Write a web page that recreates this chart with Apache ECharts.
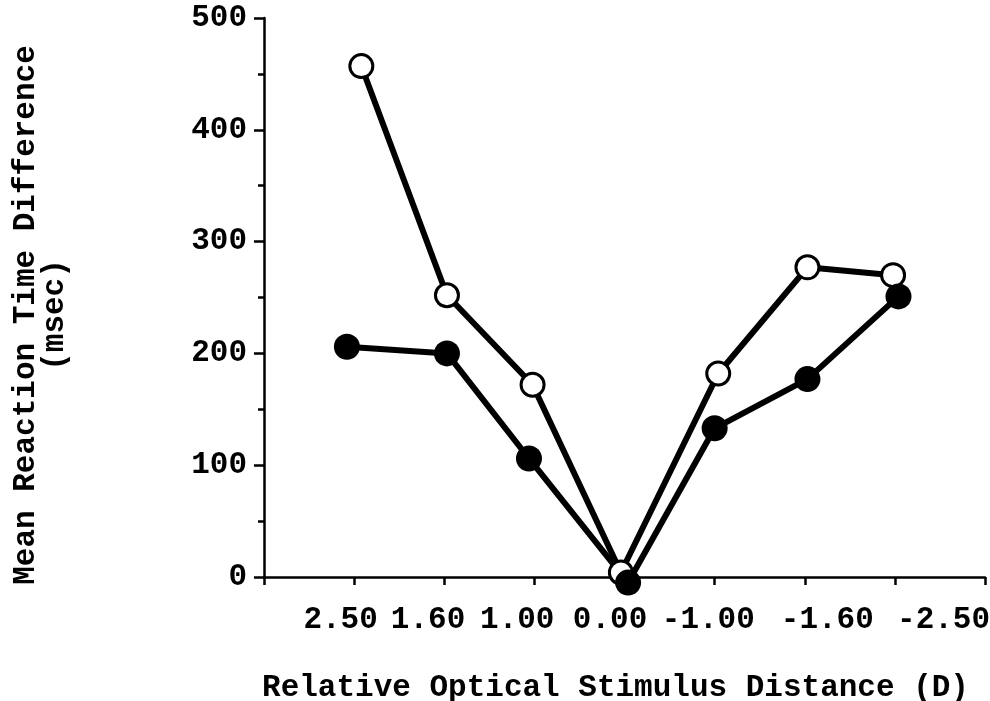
<!DOCTYPE html>
<html>
<head>
<meta charset="utf-8">
<script src="https://cdn.jsdelivr.net/npm/echarts@6/dist/echarts.min.js"></script>
<style>html,body{margin:0;padding:0;background:#fff;}#c{width:990px;height:701px;}</style>
</head>
<body>
<div id="c"></div>
<script>
// Category labels of the x axis (relative optical stimulus distance, D)
var xLabels = ['2.50', '1.60', '1.00', '0.00', '-1.00', '-1.60', '-2.50'];
// Where each label sits along the x axis (axis units, 0..8)
var xLabelAt = [0.85, 1.82, 2.81, 3.84, 4.93, 6.25, 7.54];
// Series: open circles
var openX = [1.08, 2.03, 2.98, 3.96, 5.04, 6.03, 6.98];
var openY = [457, 252, 172, 4, 182, 277, 270];
// Series: filled circles
var filledX = [0.92, 2.03, 2.94, 4.04, 5.00, 6.03, 7.04];
var filledY = [206, 200, 106, -5, 133, 177, 251];
// Y tick labels
var yTicks = [0, 100, 200, 300, 400, 500];

function pairs(xs, ys) { return xs.map(function (x, i) { return [x, ys[i]]; }); }

var FONT = '"Liberation Mono", "Courier New", monospace';
var chart = echarts.init(document.getElementById('c'), null, { renderer: 'canvas', width: 990, height: 701 });
chart.setOption({
  animation: false,
  backgroundColor: '#fff',
  grid: { left: 264, right: 5, top: 18, bottom: 124, containLabel: false, outerBoundsMode: 'none' },
  xAxis: {
    type: 'value', min: 0, max: 8, interval: 1,
    name: 'Relative Optical Stimulus Distance (D)',
    nameLocation: 'middle', nameGap: 96,
    nameTextStyle: { fontFamily: FONT, fontWeight: 'bold', fontSize: 31, color: '#000', padding: [0, 18, 0, 0] },
    axisLine: { show: true, onZero: false, lineStyle: { color: '#000', width: 2.5 } },
    axisTick: { show: true, length: 8, lineStyle: { color: '#000', width: 2.5 } },
    axisLabel: {
      customValues: xLabelAt,
      formatter: function (v) { var i = xLabelAt.indexOf(v); return i >= 0 ? xLabels[i] : ''; },
      fontFamily: FONT, fontWeight: 'bold', fontSize: 31, color: '#000', margin: 28
    },
    splitLine: { show: false }
  },
  yAxis: {
    type: 'value', min: 0, max: 500, interval: 100,
    axisLine: { show: true, lineStyle: { color: '#000', width: 2.5 } },
    axisTick: { show: true, length: 10, lineStyle: { color: '#000', width: 2.5 } },
    minorTick: { show: true, splitNumber: 2, length: 6, lineStyle: { color: '#000', width: 2.5 } },
    axisLabel: {
      formatter: function (v) { return yTicks.indexOf(v) >= 0 ? String(v) : ''; },
      fontFamily: FONT, fontWeight: 'bold', fontSize: 31, color: '#000', margin: 17
    },
    splitLine: { show: false }
  },
  graphic: [{
    type: 'text',
    x: 41, y: 315,
    rotation: Math.PI / 2,
    style: {
      text: 'Mean Reaction Time Difference\n(msec)',
      fontFamily: FONT, fontWeight: 'bold', fontSize: 31, lineHeight: 29,
      fill: '#000', align: 'center', verticalAlign: 'middle'
    }
  }],
  series: [
    {
      type: 'line', data: pairs(openX, openY), clip: false,
      symbol: 'circle', symbolSize: 23,
      lineStyle: { color: '#000', width: 6 },
      itemStyle: { color: '#fff', borderColor: '#000', borderWidth: 3 }
    },
    {
      type: 'line', data: pairs(filledX, filledY), clip: false,
      symbol: 'circle', symbolSize: 26,
      lineStyle: { color: '#000', width: 6 },
      itemStyle: { color: '#000', borderColor: '#000', borderWidth: 0 }
    }
  ]
});
</script>
</body>
</html>
